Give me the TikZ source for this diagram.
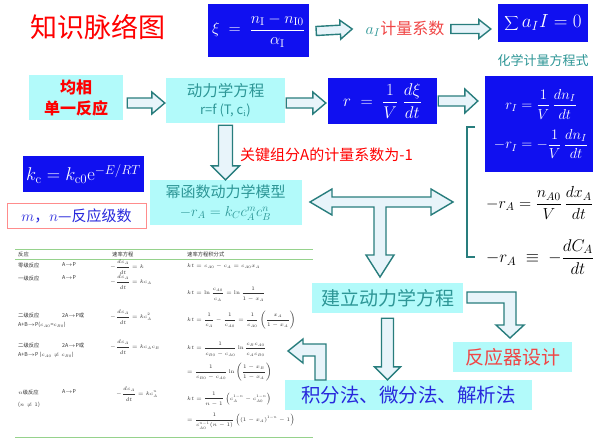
\RequirePackage{fix-cm}
\documentclass[tikz,border=0pt]{standalone}
\usepackage[no-math]{fontspec}
\setsansfont{Liberation Sans}
\newfontfamily\cjk{Noto Sans CJK SC}
\usetikzlibrary{calc}
\definecolor{bboxblue}{RGB}{16,16,240}
\definecolor{cyanbg}{RGB}{178,250,250}
\definecolor{teal1}{RGB}{45,150,150}
\definecolor{arrowline}{RGB}{40,125,125}
\definecolor{arrowfill}{RGB}{232,244,250}
\definecolor{lred}{RGB}{240,70,70}
\definecolor{tgreen}{RGB}{150,210,140}
\definecolor{jblue}{RGB}{40,40,220}
\newcommand\fsz[2]{\fontsize{#1}{#2}\selectfont}
\newcommand\eqs{\;=\;}
% fat arrow: #1 start, #2 end, #3 shaft half width, #4 head half width, #5 head length
\newcommand\fatarrow[5]{%
  \path #1 coordinate (faA) #2 coordinate (faB);
  \coordinate (faC) at ($(faB)!#5!(faA)$);
  \draw[blockarrow] ($(faA)!#3!90:(faB)$) -- ($(faC)!#3!90:(faB)$) -- ($(faC)!#4!90:(faB)$)
    -- (faB) -- ($(faC)!#4!-90:(faB)$) -- ($(faC)!#3!-90:(faB)$) -- ($(faA)!#3!-90:(faB)$) -- cycle;}
\begin{document}
\begin{tikzpicture}[x=1pt,y=-1pt,
  bluebox/.style={fill=bboxblue, text=white, inner sep=0, align=center},
  cyanbox/.style={fill=cyanbg, inner sep=0, align=center},
  blockarrow/.style={draw=arrowline, fill=arrowfill, line width=1.4pt, line join=miter},
  tbl/.style={anchor=west, inner sep=0, text=black!80, font=\cjk\fsz{5.3}{6.3}},
  tline/.style={draw=tgreen, line width=1pt}]
\useasboundingbox[fill=white] (0,0) rectangle (593,439);

% title row
\node[text=red, font=\cjk\fsz{27}{30}] (title) at (98,27) {知识脉络图};
\node[bluebox, minimum width=101pt, minimum height=53pt, font=\fsz{16}{18}] (xi) at (258.5,30.5)
  {$\displaystyle \xi\eqs\frac{n_{\mathrm{I}}-n_{\mathrm{I}0}}{\alpha_{\mathrm{I}}}$};
\node[font=\cjk\fsz{16}{18}, text=lred] (aI) at (405,29) {\textcolor{teal1}{$a_I$}计量系数};
\node[bluebox, minimum width=90pt, minimum height=38pt, font=\fsz{19}{22}] (sum) at (543,23) {$\displaystyle\sum a_I I=0$};
\node[text=teal1, font=\cjk\fsz{13}{15}] (hx) at (543,61) {化学计量方程式};
\fatarrow{([xshift=7pt,yshift=-0.5pt]xi.east)}{([xshift=-10pt]aI.west)}{4.5pt}{9.5pt}{12pt}
\fatarrow{([xshift=3pt]aI.east)}{([xshift=-7pt,yshift=-6pt]sum.west)}{4.5pt}{9.5pt}{12pt}

% second row
\node[cyanbox, minimum width=94pt, minimum height=45pt, text=red, font=\cjk\bfseries\fsz{16}{21}] (jx) at (76,97.5) {均相\\单一反应};
\node[cyanbox, minimum width=119pt, minimum height=45pt, text=teal1, font=\cjk\fsz{15.5}{18}] (dl) at (225.5,100.5)
  {动力学方程\\{\fsz{13}{15}r=f (T, c$_\mathrm{i}$)}};
\node[bluebox, minimum width=109pt, minimum height=46pt, font=\fsz{17}{20}] (r) at (382.5,101)
  {$\displaystyle r\eqs\frac{1}{V}\;\frac{d\xi}{dt}$};
\node[bluebox, minimum width=112pt, minimum height=96pt, font=\fsz{14.5}{17}] (rI) at (541,124)
  {$\displaystyle r_I=\frac{1}{V}\,\frac{dn_I}{dt}$\\[9pt]$\displaystyle -r_I=-\frac{1}{V}\,\frac{dn_I}{dt}$};
\fatarrow{([xshift=4pt,yshift=-5.5pt]jx.east)}{([xshift=-1pt,yshift=-2.5pt]dl.west)}{5pt}{11pt}{13pt}
\fatarrow{([xshift=1pt,yshift=-2.5pt]dl.east)}{([xshift=-2pt,yshift=-2pt]r.west)}{5pt}{11pt}{13pt}
\fatarrow{([xshift=1pt]r.east)}{([xshift=-7pt,yshift=23pt]rI.west)}{5pt}{12pt}{13pt}

% bracket and formulas
\draw[arrowline, line width=1.3pt] (475,127) -- (467,127) -- (467,257) -- (475,257);
\node[anchor=west, inner sep=0, font=\fsz{16}{19}] (rA1) at (486,203) {$\displaystyle -r_A=\frac{n_{A0}}{V}\,\frac{dx_A}{dt}$};
\node[anchor=west, inner sep=0, font=\fsz{17}{20}] (rA2) at (486,257) {$\displaystyle -r_A\;\equiv\;-\frac{dC_A}{dt}$};

% middle
\node[anchor=west, inner sep=0, text=red, font=\cjk\fsz{15}{18}] (gj) at (240,155) {关键组分A的计量系数为-1};
\node[bluebox, minimum width=121pt, minimum height=36pt, font=\fsz{18.5}{21}] (kc) at (83.5,174) {$k_\mathrm{c}=k_{\mathrm{c}0}\mathrm{e}^{-E/RT}$};
\node[draw=red!45, fill=white, line width=0.8pt, minimum width=139pt, minimum height=25pt, inner sep=0,
  text=jblue, font=\cjk\fsz{15}{18}] (mn) at (76.5,215.5) {$m$，$n$—反应级数};
\node[cyanbox, minimum width=152pt, minimum height=45pt, text=teal1, font=\cjk\fsz{15}{18}] (mh) at (225.5,202.5)
  {幂函数动力学模型\\[1pt]{\fsz{14.5}{17}$-r_A=k_Cc_A^mc_B^n$}};
\fatarrow{([yshift=-2pt]dl.south)}{(mh.north)}{7pt}{14pt}{14pt}

% T arrow
\draw[blockarrow] (310,202) -- (332,189) -- (332,197) -- (431,197) -- (431,189) -- (453,202) -- (431,215)
  -- (431,207) -- (386,207) -- (386,255) -- (394,255) -- (380,277) -- (366,255) -- (374,255)
  -- (374,207) -- (332,207) -- (332,215) -- cycle;

% bottom
\node[cyanbox, minimum width=151pt, minimum height=30pt, text=teal1, font=\cjk\fsz{19}{22}] (jl) at (387.5,298) {建立动力学方程};
\node[cyanbox, minimum width=119pt, minimum height=30pt, text=lred, font=\cjk\fsz{19}{22}] (fy) at (512.5,357) {反应器设计};
\node[cyanbox, minimum width=247pt, minimum height=30pt, text=jblue, font=\cjk\fsz{19.5}{22}] (jf) at (408.5,395) {积分法、微分法、解析法};
\fatarrow{([yshift=-5pt]jl.south)}{(jf.north -| jl.south)}{6pt}{13pt}{13pt}
\draw[blockarrow] (467,292) -- (516,292) -- (516,325) -- (524,325) -- (510,338) -- (496,325) -- (504,325)
  -- (504,303) -- (467,303) -- cycle;
\draw[blockarrow] (326,380) -- (326,344) -- (303,344) -- (303,339) -- (288,351) -- (303,363) -- (303,356)
  -- (315,356) -- (315,380) -- cycle;

% table
\draw[tline] (15,249) -- (313,249);
\draw[tline] (15,259) -- (313,259);
\draw[tline] (15,437) -- (313,437);
\node[tbl] (h1) at (18,254) {反应};
\node[tbl] (h2) at (112,254) {速率方程};
\node[tbl] (h3) at (187,254) {速率方程积分式};
\node[tbl] (r1a) at (18,265) {零级反应};
\node[tbl] (r1b) at (62,265) {A$\to$P};
\node[tbl] (r1c) at (110,267) {$\displaystyle -\frac{dc_A}{dt}=k$};
\node[tbl] (r1d) at (187,266) {$kt=c_{A0}-c_A=c_{A0}x_A$};
\node[tbl] (r2a) at (18,278) {一级反应};
\node[tbl] (r2b) at (62,278) {A$\to$P};
\node[tbl] (r2c) at (110,282) {$\displaystyle -\frac{dc_A}{dt}=kc_A$};
\node[tbl] (r2d) at (187,294) {$\displaystyle kt=\ln\frac{c_{A0}}{c_A}=\ln\frac{1}{1-x_A}$};
\node[tbl] (r3a) at (18,315) {二级反应};
\node[tbl] (r3b) at (62,315) {2A$\to$P或};
\node[tbl] (r3e) at (18,325) {A+B$\to$P($c_{A0}$=$c_{B0}$)};
\node[tbl] (r3c) at (110,317) {$\displaystyle -\frac{dc_A}{dt}=kc_A^2$};
\node[tbl] (r3d) at (187,320) {$\displaystyle kt=\frac{1}{c_A}-\frac{1}{c_{A0}}=\frac{1}{c_{A0}}\left(\frac{x_A}{1-x_A}\right)$};
\node[tbl] (r4a) at (18,345) {二级反应};
\node[tbl] (r4b) at (62,345) {2A$\to$P或};
\node[tbl] (r4e) at (18,355) {A+B$\to$P ($c_{A0}\neq c_{B0}$)};
\node[tbl] (r4c) at (110,347) {$\displaystyle -\frac{dc_A}{dt}=kc_Ac_B$};
\node[tbl] (r4d) at (187,349) {$\displaystyle kt=\frac{1}{c_{B0}-c_{A0}}\ln\frac{c_Bc_{A0}}{c_Ac_{B0}}$};
\node[tbl] (r4f) at (187,372) {$\displaystyle =\frac{1}{c_{B0}-c_{A0}}\ln\left(\frac{1-x_B}{1-x_A}\right)$};
\node[tbl] (r5a) at (18,392) {$n$级反应};
\node[tbl] (r5b) at (62,392) {A$\to$P};
\node[tbl] (r5e) at (18,405) {($n\neq1$)};
\node[tbl] (r5c) at (116,394) {$\displaystyle -\frac{dc_A}{dt}=kc_A^n$};
\node[tbl] (r5d) at (187,399) {$\displaystyle kt=\frac{1}{n-1}\left(c_A^{1-n}-c_{A0}^{1-n}\right)$};
\node[tbl] (r5f) at (187,421) {$\displaystyle =\frac{1}{c_{A0}^{n-1}(n-1)}\left((1-x_A)^{1-n}-1\right)$};
\end{tikzpicture}
\end{document}
